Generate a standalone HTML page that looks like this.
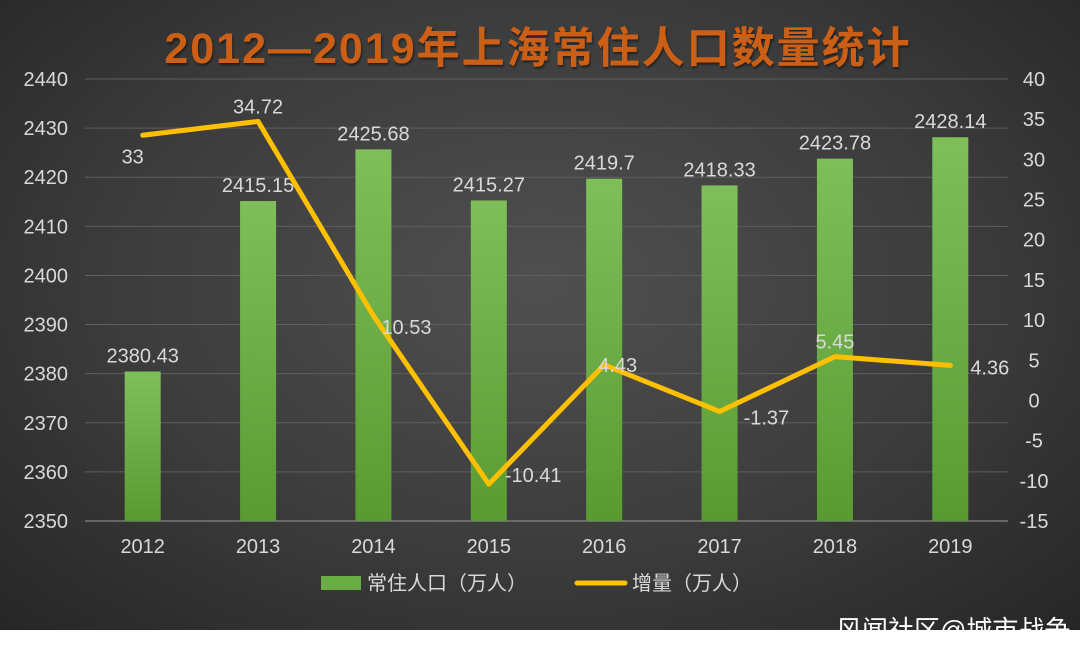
<!DOCTYPE html>
<html><head><meta charset="utf-8"><style>
body{margin:0;width:1080px;height:658px;background:#fff;overflow:hidden;font-family:"Liberation Sans","Noto Sans CJK SC",sans-serif}
#bg{position:absolute;left:0;top:0;width:1080px;height:630px;background:radial-gradient(ellipse at 50% 45%,#505050 0%,#3c3c3c 55%,#262626 100%);overflow:hidden}
</style></head><body>
<div id="bg">
<svg id="chart" width="1080" height="630" style="font-family:'Liberation Sans','Noto Sans CJK SC',sans-serif"></svg>
<div style="position:absolute;left:836px;top:610px;font-size:26px;color:#fff;white-space:nowrap;font-family:'Liberation Sans','Noto Sans CJK SC',sans-serif">风闻社区@城市战争</div>
</div>
<script>
const categories=["2012","2013","2014","2015","2016","2017","2018","2019"];
const population=[2380.43,2415.15,2425.68,2415.27,2419.7,2418.33,2423.78,2428.14];
const popLabels=["2380.43","2415.15","2425.68","2415.27","2419.7","2418.33","2423.78","2428.14"];
const growth=[33,34.72,10.53,-10.41,4.43,-1.37,5.45,4.36];
const growthLabels=["33","34.72","10.53","-10.41","4.43","-1.37","5.45","4.36"];
const leftTicks=[2350,2360,2370,2380,2390,2400,2410,2420,2430,2440];
const rightTicks=[-15,-10,-5,0,5,10,15,20,25,30,35,40];
const NS="http://www.w3.org/2000/svg";
const svg=document.getElementById('chart');
const plotTop=79,plotBot=521,x0=85,x1=1008;
const yL=v=>plotBot-(v-2350)/90*(plotBot-plotTop);
const yR=v=>plotBot-(v+15)/55*(plotBot-plotTop);
const bw=(x1-x0)/categories.length;
const xC=i=>x0+bw*(i+0.5);
function mk(t,a,txt){const e=document.createElementNS(NS,t);for(const k in a)e.setAttribute(k,a[k]);if(txt!=null)e.textContent=txt;svg.appendChild(e);return e;}
const defs=mk('defs',{});
defs.innerHTML='<linearGradient id="bg1" x1="0" y1="0" x2="0" y2="1"><stop offset="0" stop-color="#7fbf5a"/><stop offset="1" stop-color="#5a9a32"/></linearGradient><filter id="sh"><feDropShadow dx="1" dy="2" stdDeviation="1" flood-color="#000" flood-opacity="0.5"/></filter>';
const t=mk('text',{x:538,y:63,'text-anchor':'middle','font-size':43,'font-weight':'bold','letter-spacing':2,fill:'#cc5f16',filter:'url(#sh)'},'2012—2019年上海常住人口数量统计');

leftTicks.forEach(v=>{
 const g=mk('line',{x1:x0,x2:x1,y1:yL(v),y2:yL(v),stroke:v===2350?'#9a9a9a':'#5e5e5e','stroke-width':1});
 
 const l=mk('text',{x:68,y:yL(v)+7,'text-anchor':'end','font-size':20,fill:'#d9d9d9'},v);
 
});
rightTicks.forEach(v=>{
 const l=mk('text',{x:1034,y:yR(v)+7,'text-anchor':'middle','font-size':20,fill:'#d9d9d9'},v);
 
});
categories.forEach((c,i)=>{
 const l=mk('text',{x:xC(i),y:553,'text-anchor':'middle','font-size':20,fill:'#d9d9d9'},c);
 
 const b=mk('rect',{x:xC(i)-18,y:yL(population[i]),width:36,height:plotBot-yL(population[i]),fill:'url(#bg1)'});
 
 const bl=mk('text',{x:xC(i),y:yL(population[i])-9,'text-anchor':'middle','font-size':20,fill:'#d9d9d9'},popLabels[i]);
 
});
const pts=growth.map((v,i)=>xC(i)+','+yR(v)).join(' ');
const pl=mk('polyline',{points:pts,fill:'none',stroke:'#ffc000','stroke-width':5,'stroke-linejoin':'round','stroke-linecap':'round'});

const offs=[[-10,28,'middle'],[0,-8,'middle'],[8,18,'start'],[16,-2,'start'],[-6,7,'start'],[24,13,'start'],[0,-8,'middle'],[20,9,'start']];
growth.forEach((v,i)=>{
 const [dx,dy,a]=offs[i];
 const l=mk('text',{x:xC(i)+dx,y:yR(v)+dy,'text-anchor':a,'font-size':20,fill:'#d9d9d9'},growthLabels[i]);
 
});
const lg1=mk('rect',{x:321,y:576,width:40,height:14,fill:'#6aad44'});

const lt1=mk('text',{x:367,y:590,'font-size':20,fill:'#d9d9d9'},'常住人口（万人）');

const lg2=mk('line',{x1:577,x2:625,y1:583,y2:583,stroke:'#ffc000','stroke-width':5,'stroke-linecap':'round'});

const lt2=mk('text',{x:632,y:590,'font-size':20,fill:'#d9d9d9'},'增量（万人）');

</script>
</body></html>
